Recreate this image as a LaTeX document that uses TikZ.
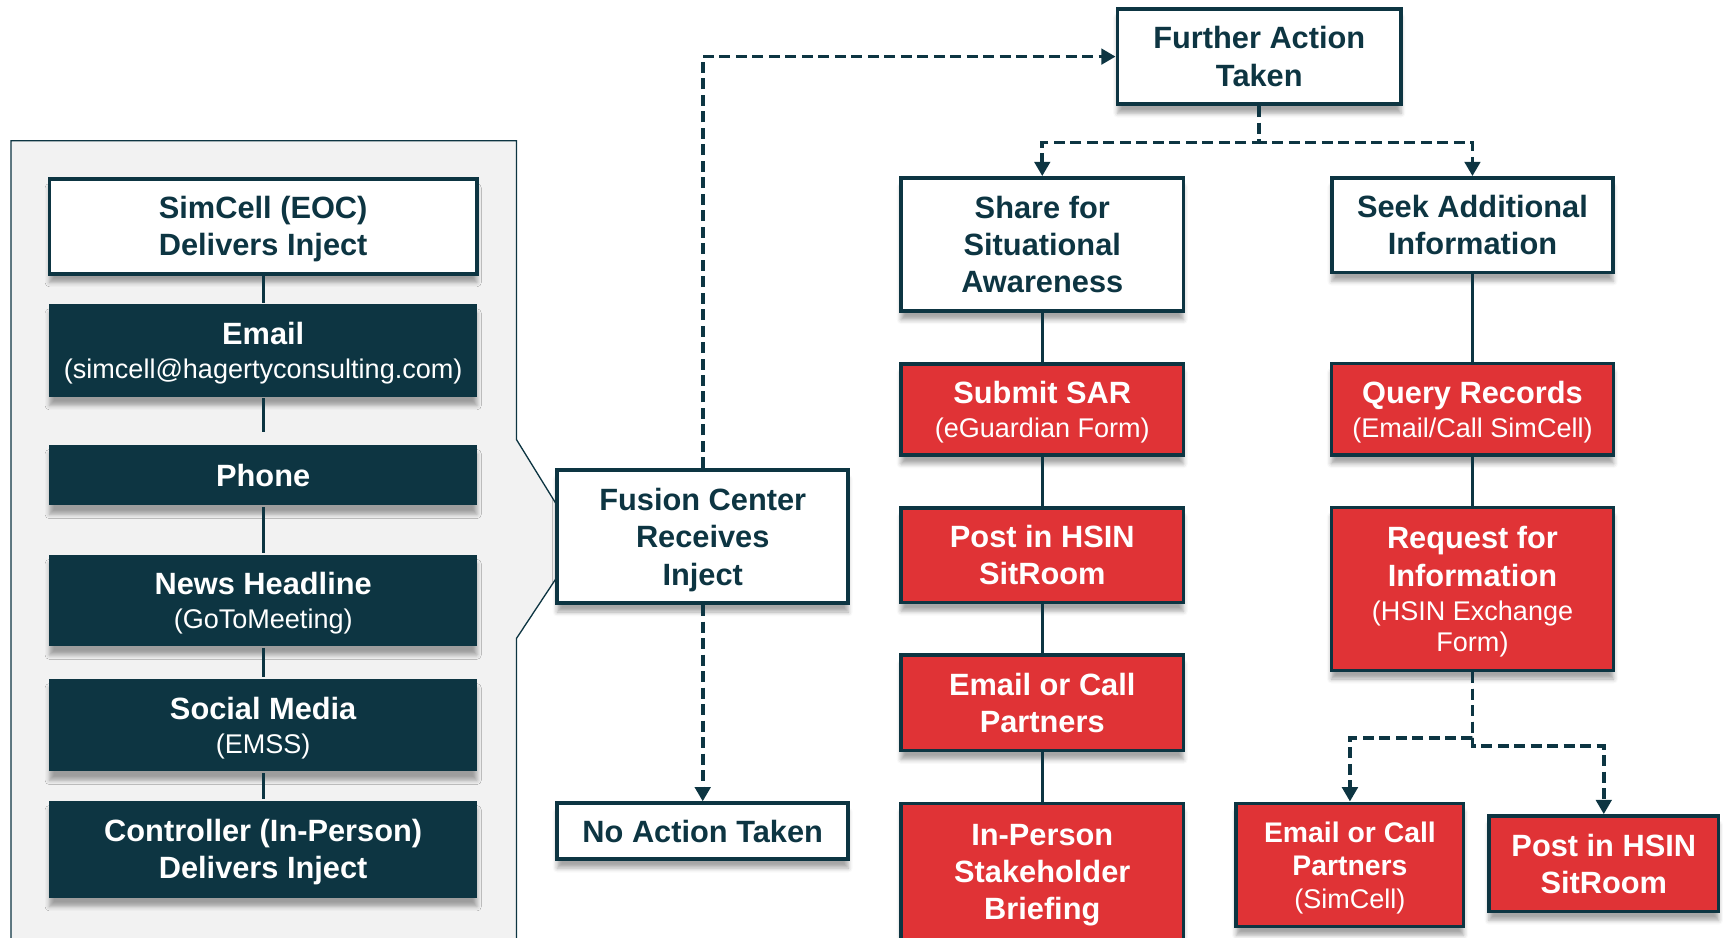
\documentclass[tikz,border=0pt]{standalone}
\usepackage{fontspec}
\setmainfont{Liberation Sans}
\usetikzlibrary{positioning,arrows.meta,shadows.blur}
\definecolor{ink}{RGB}{13,53,66}
\definecolor{alert}{RGB}{224,51,54}
\definecolor{panel}{RGB}{242,242,242}
\newcommand{\subline}[1]{{\fontsize{12.3}{14}\mdseries\selectfont #1}}

\begin{document}
\begin{tikzpicture}[x=0.5pt, y=-0.5pt, node distance=22.4pt, line width=1.5pt,
  card/.style = {rectangle, align=flush center, inner sep=2pt, font=\fontsize{14}{17}\selectfont\bfseries,
    execute at begin node={\rule{0pt}{12.8pt}}, execute at end node={\rule[-2.8pt]{0pt}{0pt}},
    blur shadow={shadow xshift=0pt, shadow yshift=-4pt, shadow blur radius=2pt, shadow opacity=35}},
  whitebox/.style = {card, draw=ink, line width=1.75pt, fill=white, text=ink, text width=120pt},
  mediabox/.style = {card, fill=ink, text=white, minimum width=194.5pt, text width=188pt},
  actbox/.style = {card, draw=ink, line width=1.6pt, fill=alert, text=white, minimum width=128.5pt, text width=118pt},
  link/.style = {draw=ink, line width=1.5pt},
  dashlink/.style = {link, line width=1.7pt, dash pattern=on 5pt off 2.5pt, -{Triangle[width=7pt,length=6.5pt]}}]
\useasboundingbox (0,0) rectangle (1568,853);
\clip (0,0) rectangle (1568,853);
% media panel
\filldraw[fill=panel, draw=ink, line width=0.6pt] (10,880) -- (10,128) -- (470,128) -- (470,400) -- (507,460) -- (507,525) -- (470,581) -- (470,880);

\node[whitebox, minimum width=194.5pt, minimum height=43pt] (sim) at (239.5,206) {SimCell (EOC)\\Delivers Inject};
\node[mediabox, minimum height=42pt] (mail) at (239.5,319) {Email\\[-1.5pt]\subline{(simcell@hagertyconsulting.com)}};
\node[mediabox, minimum height=27.5pt] (phone) at (239.5,432.5) {Phone};
\node[mediabox, minimum height=41.5pt] (news) at (239.5,546.5) {News Headline\\[-1.5pt]\subline{(GoToMeeting)}};
\node[mediabox, minimum height=42pt] (social) at (239.5,660) {Social Media\\[-1.5pt]\subline{(EMSS)}};
\node[mediabox, minimum height=44pt] (ctrl) at (239.5,773) {Controller (In-Person)\\Delivers Inject};

\node[whitebox, minimum width=132.5pt, minimum height=60.5pt] (fc) at (639.5,488.5) {Fusion Center\\Receives\\Inject};
\node[whitebox, minimum width=132.5pt, minimum height=25.5pt] (na) at (639.5,756.5) {No Action Taken};
\node[whitebox, minimum width=129pt, minimum height=43.5pt] (fa) at (1146,51.5) {Further Action\\Taken};
\node[whitebox, minimum width=128.5pt, minimum height=60.5pt] (share) at (948.5,222.5) {Share for\\Situational\\Awareness};
\node[whitebox, minimum width=128pt, minimum height=43pt] (seek) at (1340,205) {Seek Additional\\Information};

% share column
\node[actbox, minimum height=41.5pt, below=of share] (sar) {Submit SAR\\[-1.5pt]\subline{(eGuardian Form)}};
\node[actbox, minimum height=43pt, below=of sar] (hsin) {Post in HSIN\\SitRoom};
\node[actbox, minimum height=43.5pt, below=of hsin] (call) {Email or Call\\Partners};
\node[actbox, minimum height=62pt, below=of call] (brief) {In-Person\\Stakeholder\\Briefing};

% seek column
\node[actbox, minimum height=41.5pt] (query) at (1340,372.5) {Query Records\\[-1.5pt]\subline{(Email/Call SimCell)}};
\node[actbox, minimum height=74pt, below=of query] (rfi) {Request for\\Information\\[-1.5pt]\subline{(HSIN Exchange}\\[-3pt]\subline{Form)}};
\node[actbox, minimum width=103.5pt, minimum height=56pt, text width=95pt, font=\fontsize{12.9}{15}\selectfont\bfseries] (mail2) at (1228.5,787) {Email or Call\\Partners\\\subline{(SimCell)}};
\node[actbox, minimum width=104.5pt, minimum height=43.5pt, text width=95pt] (post2) at (1459.5,786) {Post in HSIN\\SitRoom};

\draw[link] (sim) -- (mail);
\draw[link, shorten >=5pt] (mail) -- (phone);
\draw[link] (phone) -- (news);
\draw[link] (news) -- (social);
\draw[link] (social) -- (ctrl);
\draw[link] (share) -- (sar);
\draw[link] (sar) -- (hsin);
\draw[link] (hsin) -- (call);
\draw[link] (call) -- (brief);
\draw[link] (seek) -- (query);
\draw[link] (query) -- (rfi);

\draw[dashlink] (fc.north) |- (fa.west);
\draw[dashlink] (fc.south) -- (na.north);
\draw[dashlink] (fa.south) -- ++(0,33) -| (share.north);
\draw[dashlink] (fa.south) -- ++(0,33) -| (seek.north);
\draw[dashlink] (rfi.south) -- ++(0,60) -| (mail2.north);
\draw[dashlink] (rfi.south) -- ++(0,67) -| (post2.north);
\end{tikzpicture}
\end{document}
